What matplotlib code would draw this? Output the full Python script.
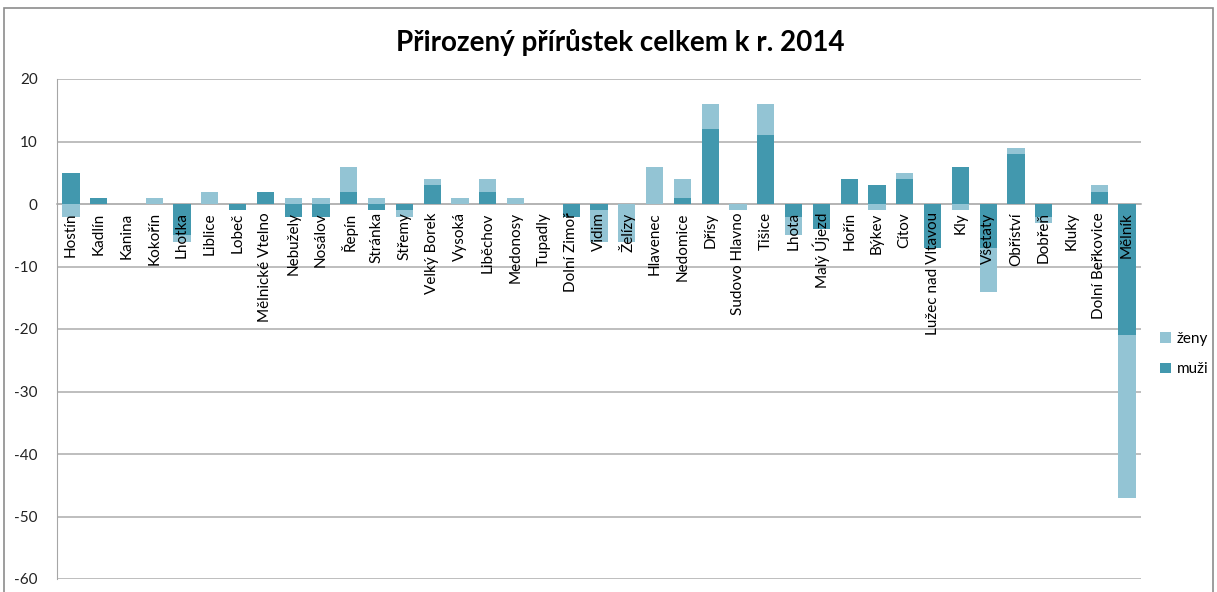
import numpy as np
import matplotlib
matplotlib.use('Agg')
import matplotlib.pyplot as plt
from matplotlib.patches import Rectangle

# Data
obce = ['Hostín', 'Kadlín', 'Kanina', 'Kokořín', 'Lhotka', 'Liblice', 'Lobeč',
        'Mělnické Vtelno', 'Nebužely', 'Nosálov', 'Řepín', 'Stránka', 'Střemy',
        'Velký Borek', 'Vysoká', 'Liběchov', 'Medonosy', 'Tupadly', 'Dolní Zimoř',
        'Vidim', 'Želízy', 'Hlavenec', 'Nedomice', 'Dřísy', 'Sudovo Hlavno',
        'Tišice', 'Lhota', 'Malý Újezd', 'Hořín', 'Býkev', 'Cítov',
        'Lužec nad Vltavou', 'Kly', 'Všetaty', 'Obříství', 'Dobřeň', 'Kluky',
        'Dolní Beřkovice', 'Mělník']
muzi = [5, 1, 0, 0, -5, 0, -1, 2, -2, -2, 2, -1, -1, 3, 0, 2, 0, 0, -2,
        -1, 0, 0, 1, 12, 0, 11, -2, -4, 4, 3, 4, -7, 6, -7, 8, -2, 0, 2, -21]
zeny = [-2, 0, 0, 1, -1, 2, 0, 0, 1, 1, 4, 1, -1, 1, 1, 2, 1, 0, 0,
        -5, -6, 6, 3, 4, -1, 5, -3, 0, 0, -1, 1, 0, -1, -7, 1, -1, 0, 1, -26]
y_ticks = [20, 10, 0, -10, -20, -30, -40, -50, -60]

c_muzi = '#4298AE'
c_zeny = '#93C4D4'

plt.rcParams['font.family'] = ['Lato', 'DejaVu Sans']
plt.rcParams['axes.unicode_minus'] = False

x = np.arange(len(obce))
m = np.array(muzi)
z = np.array(zeny)
# Excel-style stacking: positives on positives, negatives on negatives
bottom_z = np.where(z >= 0, np.maximum(m, 0), np.minimum(m, 0))

fig = plt.figure(figsize=(12.17, 5.92), dpi=100)
ax = fig.add_axes([57 / 1217, 1 - 579 / 592, (1141 - 57) / 1217, (579 - 79) / 592])

ax.bar(x, m, width=0.62, color=c_muzi, label='muži', zorder=2)
ax.bar(x, z, width=0.62, bottom=bottom_z, color=c_zeny, label='ženy', zorder=2)

ax.set_xlim(-0.5, len(obce) - 0.5)
ax.set_ylim(-60, 20)
ax.set_yticks(y_ticks)
ax.yaxis.grid(True, color='#B3B3B3', linewidth=1.2)
ax.yaxis.set_zorder(0.5)
ax.tick_params(axis='y', length=0, pad=14, labelsize=11, labelcolor='#222222')

ax.spines['bottom'].set_position(('data', 0))
ax.spines['bottom'].set_color('#B3B3B3')
ax.spines['bottom'].set_linewidth(1.2)
ax.spines['bottom'].set_zorder(1)
ax.spines['left'].set_color('#A6A6A6')
ax.spines['top'].set_visible(False)
ax.spines['right'].set_visible(False)
ax.set_xticks(x)
ax.set_xticklabels(obce, rotation=90, fontsize=11)
ax.tick_params(axis='x', length=0, pad=6)
# category labels are drawn over the bars, as in Excel
ax.xaxis.set_zorder(5)

handles, labels = ax.get_legend_handles_labels()
ax.legend(handles[::-1], labels[::-1], loc='center left', bbox_to_anchor=(1.005, 0.45),
          frameon=False, fontsize=11, handlelength=0.7, handleheight=0.7,
          handletextpad=0.4, labelspacing=1.1)

fig.text(620 / 1217, 1 - 42 / 592, 'Přirozený přírůstek celkem k r. 2014',
         ha='center', va='center', fontsize=20, fontweight='bold')

fig.patches.append(Rectangle((4 / 1217, -0.05), 1209 / 1217, 1.05 - 8 / 592,
                             transform=fig.transFigure, fill=False,
                             edgecolor='#8C8C8C', linewidth=1.2))

fig.savefig('out.png', dpi=100)
